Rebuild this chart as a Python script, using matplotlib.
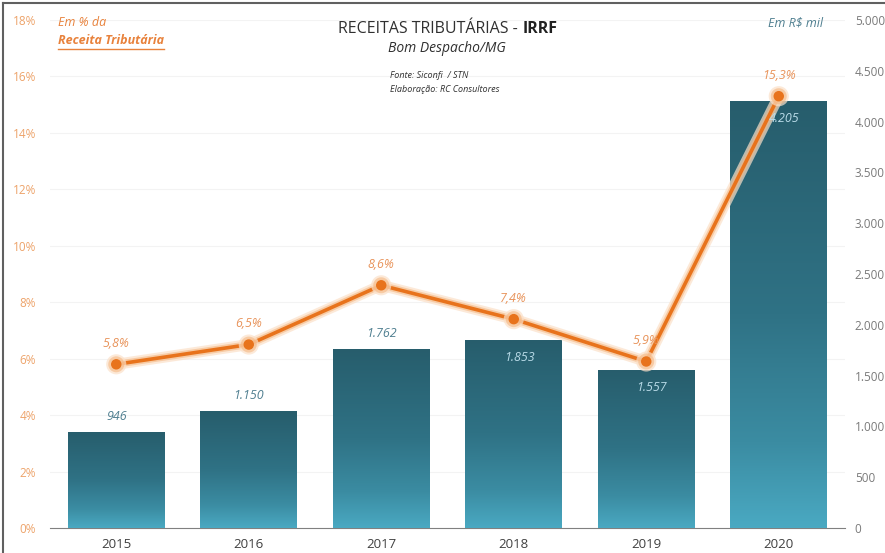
import matplotlib
matplotlib.use("Agg")
import matplotlib.pyplot as plt
import matplotlib.patheffects as pe
from matplotlib.colors import LinearSegmentedColormap
from matplotlib.lines import Line2D
import numpy as np

years = ["2015", "2016", "2017", "2018", "2019", "2020"]
valores = [946, 1150, 1762, 1853, 1557, 4205]
valores_lbl = ["946", "1.150", "1.762", "1.853", "1.557", "4.205"]
pct = [5.8, 6.5, 8.6, 7.4, 5.9, 15.3]
pct_lbl = ["5,8%", "6,5%", "8,6%", "7,4%", "5,9%", "15,3%"]
left_ticks = [0, 2, 4, 6, 8, 10, 12, 14, 16, 18]
right_ticks = [0, 500, 1000, 1500, 2000, 2500, 3000, 3500, 4000, 4500, 5000]
inside = [False, False, False, True, True, True]

plt.rcParams['font.family'] = ['Open Sans', 'DejaVu Sans']

fig = plt.figure(figsize=(8.85, 5.53), dpi=100)
W, H = 885, 553
ax = fig.add_axes([50 / W, 1 - 528 / H, 795 / W, 508 / H])
ax2 = ax.twinx()

x = np.arange(len(years))
ax.set_ylim(0, 18)
ax.set_xlim(-0.5, 5.5)

cmap = LinearSegmentedColormap.from_list("g", [(0, "#4aa9c2"), (0.2, "#3b8ca2"), (0.5, "#2f7285"), (1, "#275d6c")])
bars = ax2.bar(x, valores, width=0.73, color="none", edgecolor="none", zorder=2)
grad = np.linspace(0, 1, 256).reshape(-1, 1)
for b in bars:
    x0, w, h = b.get_x(), b.get_width(), b.get_height()
    im = ax2.imshow(grad, cmap=cmap, origin="lower", aspect="auto",
                    extent=[x0, x0 + w, 0, h], zorder=2)
    im.set_clip_path(b)
ax2.set_xlim(-0.5, 5.5)
ax2.set_ylim(0, 5000)

# line on the top axes
ax3 = fig.add_axes(ax.get_position(), frameon=False)
ax3.set_xlim(-0.5, 5.5)
ax3.set_ylim(0, 18)
ax3.set_xticks([]); ax3.set_yticks([])
ax3.plot(x, pct, color="#e8731c", lw=2.6, marker="o", ms=6.5, zorder=4,
         path_effects=[pe.Stroke(linewidth=8, foreground="#fbe0c8", alpha=0.7),
                       pe.Stroke(linewidth=5, foreground="#f5b782", alpha=0.6),
                       pe.Normal()])
for xi, p, lbl in zip(x, pct, pct_lbl):
    ax3.text(xi, p + 0.5, lbl, ha="center", va="bottom", fontsize=9, style="italic",
             color="#e8935a", zorder=5)

ax4 = fig.add_axes(ax.get_position(), frameon=False)
ax4.set_xlim(-0.5, 5.5)
ax4.set_ylim(0, 5000)
ax4.set_xticks([]); ax4.set_yticks([])
for xi, v, lbl, ins in zip(x, valores, valores_lbl, inside):
    if ins:
        ax4.text(xi + 0.04, v - 110, lbl, ha="center", va="top", fontsize=9, style="italic",
                 color="#b9dbe8", zorder=5)
    else:
        ax4.text(xi, v + 90, lbl, ha="center", va="bottom", fontsize=9, style="italic",
                 color="#4f7f90", zorder=5)

# axes styling
ax.set_yticks(left_ticks)
ax.set_yticklabels([f"{t}%" for t in left_ticks], fontsize=8.5, color="#eda36a")
ax.set_xticks(x)
ax.set_xticklabels(years, fontsize=9.5, color="#404040")
ax.tick_params(axis="y", length=0, pad=10)
ax.tick_params(axis="x", length=0, pad=7)
ax.grid(axis="y", color="#f3f3f3", lw=0.8)
ax.set_axisbelow(True)
for s in ["top", "right", "left"]:
    ax.spines[s].set_visible(False)
    ax2.spines[s].set_visible(False)
ax.spines["bottom"].set_color("#808080")
ax2.spines["bottom"].set_visible(False)
ax2.set_yticks(right_ticks)
ax2.set_yticklabels([f"{t:,}".replace(",", ".") for t in right_ticks], fontsize=8.5, color="#7a7a7a")
ax2.tick_params(axis="y", length=0, pad=7)

# texts
def fx(px): return px / W
def fy(py): return 1 - py / H

fig.text(fx(522), fy(29), "RECEITAS TRIBUTÁRIAS - ", ha="right", va="center", fontsize=11.5, color="#303030")
fig.text(fx(523), fy(29), "IRRF", ha="left", va="center", fontsize=11.5, color="#202020", weight="bold")
fig.text(fx(447), fy(49), "Bom Despacho/MG", ha="center", va="center", fontsize=10, style="italic", color="#303030")
fig.text(fx(390), fy(76), "Fonte: Siconfi  / STN", ha="left", va="center", fontsize=6.5, style="italic", color="#303030")
fig.text(fx(390), fy(90), "Elaboração: RC Consultores", ha="left", va="center", fontsize=6.5, style="italic", color="#303030")
fig.text(fx(58), fy(23), "Em % da", ha="left", va="center", fontsize=9, style="italic", color="#e8823c")
fig.text(fx(58), fy(41), "Receita Tributária", ha="left", va="center", fontsize=9, style="italic",
         weight="bold", color="#e8823c")
fig.add_artist(Line2D([fx(58), fx(164)], [fy(48.5), fy(48.5)], color="#e8823c", lw=1))
fig.text(fx(795), fy(23), "Em R$ mil", ha="center", va="center", fontsize=9, style="italic", color="#4f7f90")

# frame
fig.add_artist(Line2D([fx(3), fx(885)], [fy(3), fy(3)], color="#606060", lw=1.5))
fig.add_artist(Line2D([fx(3), fx(3)], [fy(3), fy(553)], color="#606060", lw=1.5))

fig.savefig("out.png", dpi=100)
